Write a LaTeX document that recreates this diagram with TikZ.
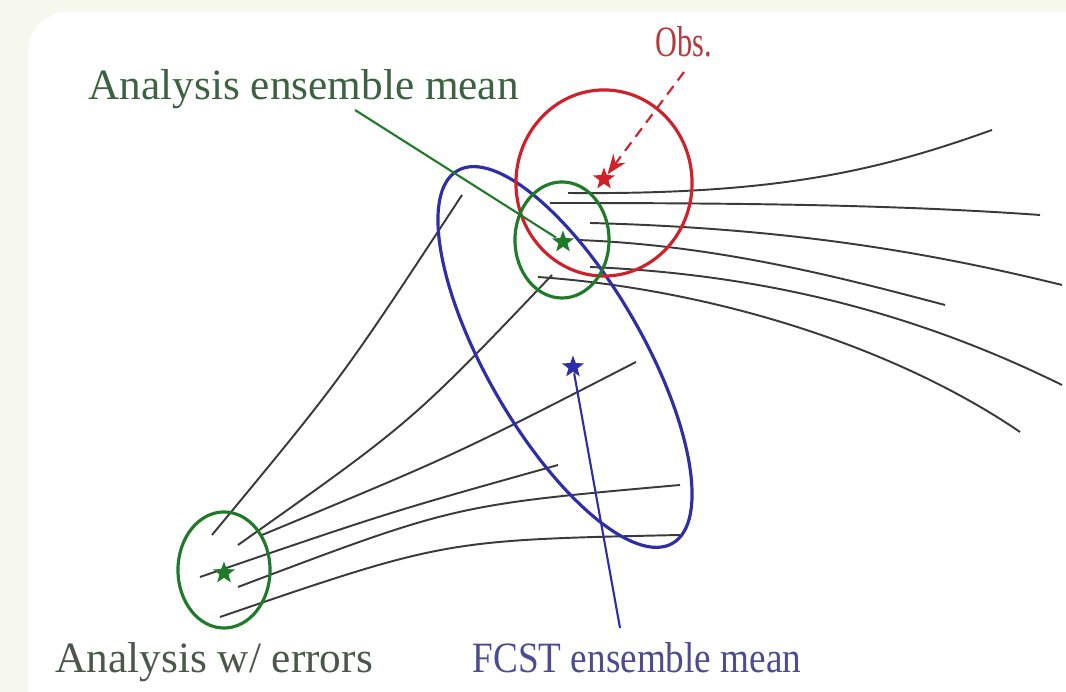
\documentclass[tikz,border=0pt]{standalone}
\usepackage{fontspec}
\setmainfont{Liberation Serif}
\usepackage{graphicx}
\usetikzlibrary{arrows.meta, shapes.geometric}
\definecolor{cAna}{HTML}{1F7A2A}
\definecolor{cObs}{HTML}{D0202A}
\definecolor{cFcst}{HTML}{2E2EA8}
\definecolor{cInk}{HTML}{3A3A3A}
\definecolor{cPage}{HTML}{F8F9EE}
\definecolor{cAnaTxt}{HTML}{3C6242}
\definecolor{cErrTxt}{HTML}{4A584A}
\definecolor{cObsTxt}{HTML}{B63A3E}
\definecolor{cFcstTxt}{HTML}{4C4C92}
\tikzset{
  spread/.style={ellipse, draw=#1, line width=0.9pt, inner sep=0pt},
  mean/.style={star, star points=5, star point ratio=2.4, fill=#1, draw=none, inner sep=0pt, minimum size=2.3mm},
  member/.style={draw=cInk, line width=0.55pt},
  lbl/.style={font=\fontsize{12.3}{14}\selectfont, inner sep=0pt, anchor=base west, text=#1},
  pointer/.style={draw=#1, line width=0.6pt},
}

\begin{document}
\begin{tikzpicture}[x=0.01cm, y=-0.01cm]
\useasboundingbox (0,0) rectangle (1066,692);
\fill[cPage] (0,0) rectangle (1066,692);
\clip (0,0) rectangle (1066,692);
\fill[white, rounded corners=4mm] (28,12) rectangle (1120,740);
% members: analysis -> forecast
\draw[member] (212,535) .. controls (342,378) .. (462,195);
\draw[member] (238,545) .. controls (412,422) .. (552,275);
\draw[member] (262,535) .. controls (455,455) .. (636,362);
\draw[member] (200,577) .. controls (390,512) .. (558,465);
\draw[member] (238,587) .. controls (455,505) .. (680,485);
\draw[member] (220,617) .. controls (445,540) .. (680,535);
% members: new analysis -> next forecast
\draw[member] (568,193) .. controls (780,195) and (880,170) .. (992,130);
\draw[member] (550,203) .. controls (750,203) and (900,205) .. (1040,215);
\draw[member] (590,223) .. controls (780,228) and (920,250) .. (1062,285);
\draw[member] (577,240) .. controls (720,245) and (850,280) .. (945,305);
\draw[member] (590,267) .. controls (780,275) and (930,320) .. (1062,385);
\draw[member] (538,277) .. controls (720,290) and (900,350) .. (1020,432);
% spreads
\node[spread=cFcst, minimum width=4.3cm, minimum height=1.56cm, rotate=-60] (fring) at (565,357) {};
\node[spread=cObs, minimum width=1.76cm, minimum height=1.86cm] (oring) at (604,183) {};
\node[spread=cAna, minimum width=0.94cm, minimum height=1.16cm] (aring) at (562,240) {};
\node[spread=cAna, minimum width=0.92cm, minimum height=1.16cm] (ering) at (224,570) {};
% means
\node[mean=cObs] (omean) at (604,179) {};
\node[mean=cAna] (amean) at (563,242) {};
\node[mean=cFcst] (fmean) at (573,367) {};
\node[mean=cAna] (emean) at (224,573) {};
% labels
\node[lbl=cAnaTxt] (analbl) at (88,100) {Analysis ensemble mean};
\node[lbl=cObsTxt] (obslbl) at (655,57) {\scalebox{0.7}[1]{Obs.}};
\node[lbl=cErrTxt] (errlbl) at (55,673) {Analysis w/ errors};
\node[lbl=cFcstTxt] (fcstlbl) at (472,673) {\scalebox{0.86}[1]{FCST ensemble mean}};
% pointers
\coordinate (anatail) at (355,110);
\coordinate (obstail) at (684,72);
\coordinate (fcsttail) at (620,628);
\draw[pointer=cAna] (anatail) -- (amean);
\draw[pointer=cObs, densely dashed, -{Stealth[length=2mm]}] (obstail) -- (omean);
\draw[pointer=cFcst] (fmean) -- (fcsttail);
\end{tikzpicture}
\end{document}
